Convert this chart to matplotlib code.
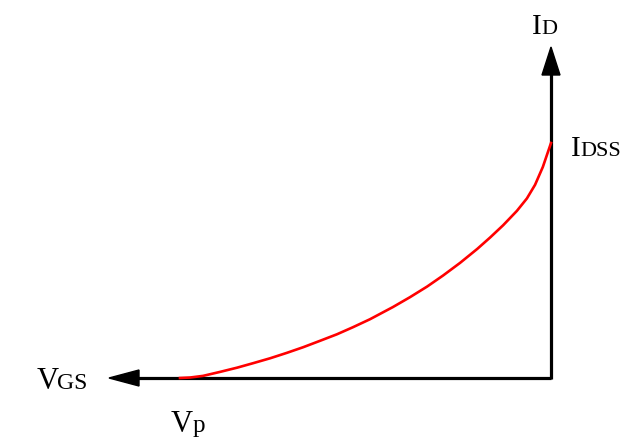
import matplotlib.pyplot as plt
from matplotlib.patches import Polygon

# curva de transferencia normalizada: vgs/|Vp| y id/IDSS
vgs = [-1.0, -0.973, -0.938, -0.892, -0.846, -0.803, -0.757, -0.712, -0.668, -0.623, -0.577, -0.534, -0.488,
       -0.426, -0.380, -0.334, -0.291, -0.245, -0.199, -0.164, -0.129, -0.092, -0.065, -0.043, -0.022, 0.0]
id_ = [0.0, 0.002, 0.009, 0.026, 0.044, 0.063, 0.084, 0.107, 0.131, 0.158, 0.186, 0.216, 0.250,
       0.302, 0.344, 0.389, 0.436, 0.490, 0.549, 0.598, 0.650, 0.711, 0.764, 0.822, 0.898, 1.0]

W, H = 640, 446
X0, Y0 = 551, 378      # origen en pixeles
SX, SY = 371.0, 235.0  # pixeles por unidad


def px(x, y):
    """Convierte pixeles de la imagen a coordenadas de datos."""
    return (x - X0) / SX, (Y0 - y) / SY


fig = plt.figure(figsize=(6.4, 4.46), dpi=100)
ax = fig.add_axes([0, 0, 1, 1])
ax.set_xlim(px(0, 0)[0], px(W, 0)[0])
ax.set_ylim(px(0, H)[1], px(0, 0)[1])
ax.axis('off')

# ejes
ax.plot([0, px(138, 0)[0]], [0, 0], color='black', lw=2.3, solid_capstyle='butt')
ax.plot([0, 0], [px(0, 379)[1], px(0, 73)[1]], color='black', lw=2.3, solid_capstyle='butt')
ax.add_patch(Polygon([px(109, 378), px(139, 370), px(139, 386)], closed=True, color='black'))
ax.add_patch(Polygon([px(551, 47), px(542, 75), px(560, 75)], closed=True, color='black'))

# curva
ax.plot(vgs, id_, color='#ff0000', lw=1.9, solid_joinstyle='round', zorder=3)

fuente = 'Liberation Serif'


def etiqueta(partes):
    for x, y, s, size in partes:
        ax.text(*px(x, y), s, fontsize=size, family=fuente, ha='left', va='baseline')


etiqueta([(532, 34, 'I', 21), (541, 34, 'D', 16)])
etiqueta([(571, 156, 'I', 21), (580, 156, 'DSS', 16)])
etiqueta([(37, 389, 'V', 22), (57, 389, 'GS', 17)])
etiqueta([(171, 432, 'V', 22), (193, 432, 'p', 18)])

fig.savefig('out.png', dpi=100)
